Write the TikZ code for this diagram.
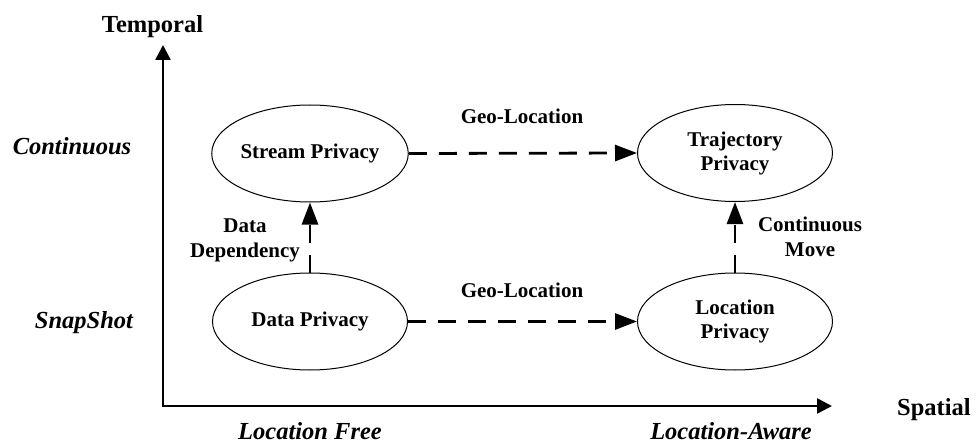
\documentclass[tikz,border=0pt]{standalone}
\usepackage{fontspec}
\setmainfont{Liberation Serif}
\usetikzlibrary{shapes.geometric,arrows.meta}
\tikzset{
  privnode/.style={ellipse,draw,line width=1pt,minimum width=195pt,minimum height=97pt,inner sep=0pt,
    align=center,font=\fontsize{21}{24}\selectfont\bfseries},
  edgelabel/.style={anchor=base,align=center,font=\fontsize{21}{25}\selectfont\bfseries},
  axislabel/.style={anchor=base,font=\fontsize{24.5}{28}\selectfont\bfseries},
  axisvalue/.style={anchor=base,font=\fontsize{24.5}{28}\selectfont\bfseries\itshape},
  axisline/.style={line width=2.6pt,-{Triangle[length=15pt,width=15pt]}},
  dasharrow/.style={line width=2.8pt,dash pattern=on 18pt off 12pt,-{Triangle[length=22pt,width=16pt]}}
}
\begin{document}
\begin{tikzpicture}[x=1pt,y=-1pt]
\useasboundingbox (0,0) rectangle (978,444);
% axes
\coordinate (origin) at (163,406);
\coordinate (ytip) at (163,45);
\coordinate (xtip) at (832,406);
\draw[axisline] ([xshift=-1.3pt]origin) -- (xtip);
\draw[axisline] ([yshift=1.3pt]origin) -- (ytip);
\node[axislabel] (temporal) at (152.5,33) {Temporal};
\node[axislabel] (spatial) at (934,415) {Spatial};
\node[axisvalue] (cont) at (72,154) {Continuous};
\node[axisvalue] (snap) at (84,328) {SnapShot};
\node[axisvalue] (lfree) at (310,439) {Location Free};
\node[axisvalue] (laware) at (731,439) {Location-Aware};
% nodes
\node[privnode] (stream) at (310,153.5) {Stream Privacy};
\node[privnode] (data) at (310,321.5) {Data Privacy};
\node[privnode] (traj) at (735,153) {Trajectory\\Privacy};
\node[privnode] (loc) at (735,321.5) {Location\\Privacy};
% connectors
\draw[dasharrow] (stream.east) -- (traj.west);
\draw[dasharrow] (data.east) -- (loc.west);
\draw[dasharrow] (data.north) -- (stream.south);
\draw[dasharrow] (loc.north) -- (traj.south);
% labels
\node[edgelabel] (geo1) at (522,123) {Geo-Location};
\node[edgelabel] (geo2) at (522,297) {Geo-Location};
\node[edgelabel] (dep) at (245,257) {Data\\Dependency};
\node[edgelabel] (move) at (810,256) {Continuous\\Move};
\end{tikzpicture}
\end{document}
